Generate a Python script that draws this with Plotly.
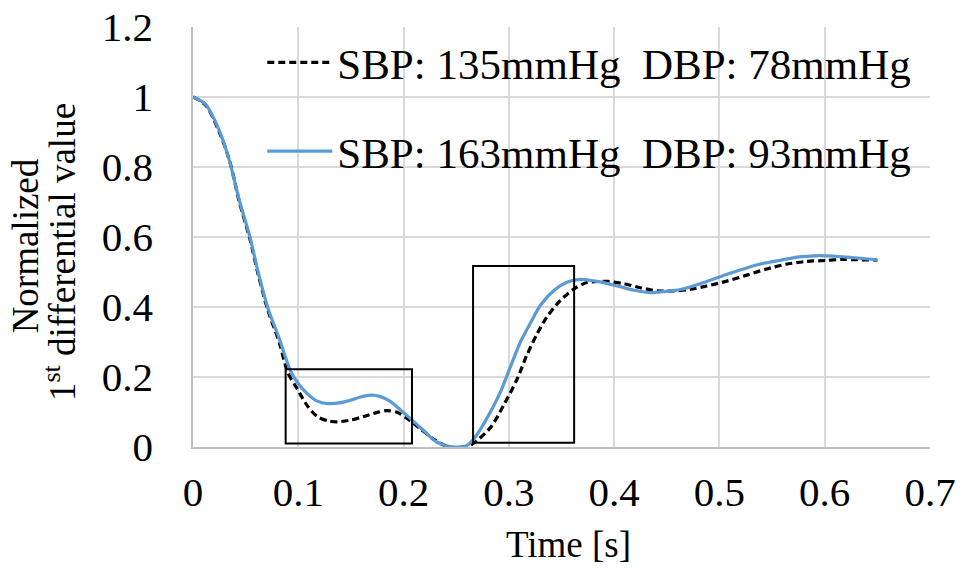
import plotly.graph_objects as go

# ---- data ----
black_t = [0, 0.012, 0.025, 0.035, 0.044, 0.054, 0.062, 0.071, 0.082, 0.090, 0.099, 0.109, 0.118,
           0.128, 0.137, 0.150, 0.162, 0.175, 0.184, 0.194, 0.203, 0.216, 0.228, 0.241, 0.250,
           0.260, 0.270, 0.283, 0.295, 0.308, 0.317, 0.327, 0.336, 0.349, 0.362, 0.374, 0.387,
           0.394, 0.409, 0.425, 0.441, 0.457, 0.472, 0.488, 0.507, 0.526, 0.544, 0.563, 0.582,
           0.601, 0.617, 0.632, 0.650]
black_v = [1.0, 0.977, 0.900, 0.815, 0.700, 0.595, 0.492, 0.392, 0.298, 0.213, 0.166, 0.116, 0.087,
           0.075, 0.072, 0.077, 0.087, 0.099, 0.104, 0.099, 0.082, 0.052, 0.023, 0.002, -0.004,
           -0.001, 0.019, 0.057, 0.119, 0.195, 0.262, 0.324, 0.371, 0.419, 0.452, 0.470, 0.473,
           0.473, 0.467, 0.455, 0.446, 0.446, 0.450, 0.460, 0.474, 0.491, 0.508, 0.522, 0.530,
           0.533, 0.536, 0.535, 0.534]

blue_t = [0, 0.012, 0.025, 0.0345, 0.044, 0.054, 0.062, 0.071, 0.082, 0.092, 0.099, 0.109, 0.118,
          0.128, 0.139, 0.150, 0.159, 0.170, 0.178, 0.187, 0.197, 0.208, 0.219, 0.231, 0.243,
          0.251, 0.260, 0.267, 0.279, 0.292, 0.302, 0.311, 0.321, 0.330, 0.343, 0.355, 0.368,
          0.384, 0.403, 0.419, 0.435, 0.447, 0.463, 0.482, 0.500, 0.519, 0.538, 0.557, 0.576,
          0.595, 0.610, 0.626, 0.650]
blue_v = [1.0, 0.979, 0.904, 0.819, 0.705, 0.601, 0.498, 0.398, 0.309, 0.222, 0.185, 0.151, 0.131,
          0.124, 0.126, 0.134, 0.143, 0.148, 0.144, 0.131, 0.106, 0.077, 0.047, 0.015, 0.002,
          0.0, 0.004, 0.024, 0.081, 0.157, 0.233, 0.300, 0.357, 0.405, 0.448, 0.471, 0.479,
          0.473, 0.460, 0.448, 0.441, 0.444, 0.450, 0.467, 0.486, 0.505, 0.522, 0.533, 0.543,
          0.547, 0.545, 0.541, 0.535]

series_names = ["SBP: 135mmHg  DBP: 78mmHg", "SBP: 163mmHg  DBP: 93mmHg"]

# highlighted regions (t0, t1, v0, v1)
boxes = [(0.088, 0.208, 0.010, 0.222), (0.266, 0.362, 0.012, 0.517)]

x_ticks = [0, 0.1, 0.2, 0.3, 0.4, 0.5, 0.6, 0.7]
x_tick_labels = ["0", "0.1", "0.2", "0.3", "0.4", "0.5", "0.6", "0.7"]
y_ticks = [0, 0.2, 0.4, 0.6, 0.8, 1.0, 1.2]
y_tick_labels = ["0", "0.2", "0.4", "0.6", "0.8", "1", "1.2"]

FONT = "Liberation Serif, Times New Roman, serif"

fig = go.Figure()
fig.add_trace(go.Scatter(
    x=black_t, y=black_v, mode="lines", name=series_names[0], legendgroup="a",
    line=dict(color="black", width=3.2, dash="7px,4px", shape="spline", smoothing=0.8)))
fig.add_trace(go.Scatter(
    x=blue_t, y=blue_v, mode="lines", name=series_names[1], legendgroup="b",
    line=dict(color="#5b9bd5", width=3.2, shape="spline", smoothing=0.8)))

for (t0, t1, v0, v1) in boxes:
    fig.add_shape(type="rect", xref="x", yref="y", x0=t0, x1=t1, y0=v0, y1=v1,
                  line=dict(color="black", width=2), fillcolor="rgba(0,0,0,0)", layer="above")

fig.update_layout(
    width=962, height=569,
    margin=dict(l=193, r=32, t=27, b=122, autoexpand=False),
    paper_bgcolor="white", plot_bgcolor="white",
    font=dict(family=FONT, color="black", size=40),
    showlegend=True,
    legend=dict(x=0.094, y=0.998, xanchor="left", yanchor="top",
                bgcolor="rgba(0,0,0,0)", font=dict(family=FONT, size=43, color="black"),
                tracegroupgap=30, itemwidth=65, traceorder="grouped"),
    xaxis=dict(range=[0, 0.7], tickvals=x_ticks, ticktext=x_tick_labels,
               showgrid=True, gridcolor="#d9d9d9", gridwidth=1.5,
               showline=True, linecolor="#bfbfbf", linewidth=1.5,
               zeroline=False, ticks="", ticklabelstandoff=8, automargin=False,
               tickfont=dict(family=FONT, size=41)),
    yaxis=dict(range=[0, 1.2], tickvals=y_ticks, ticktext=y_tick_labels,
               showgrid=True, gridcolor="#d9d9d9", gridwidth=1.5,
               showline=True, linecolor="#bfbfbf", linewidth=1.5,
               zeroline=False, ticks="", ticklabelstandoff=30, automargin=False,
               tickfont=dict(family=FONT, size=41)),
)

fig.add_annotation(text="Time [s]", xref="paper", yref="paper", x=0.509, y=-0.233,
                   xanchor="center", yanchor="middle", showarrow=False,
                   font=dict(family=FONT, size=37, color="black"))
fig.add_annotation(text="Normalized", xref="paper", yref="paper", x=-0.228, y=0.48,
                   xanchor="center", yanchor="middle", showarrow=False, textangle=-90,
                   font=dict(family=FONT, size=37, color="black"))
fig.add_annotation(text="1<sup>st</sup> differential value", xref="paper", yref="paper",
                   x=-0.180, y=0.465, xanchor="center", yanchor="middle", showarrow=False,
                   textangle=-90, font=dict(family=FONT, size=37, color="black"))

fig.write_html("out.html")
